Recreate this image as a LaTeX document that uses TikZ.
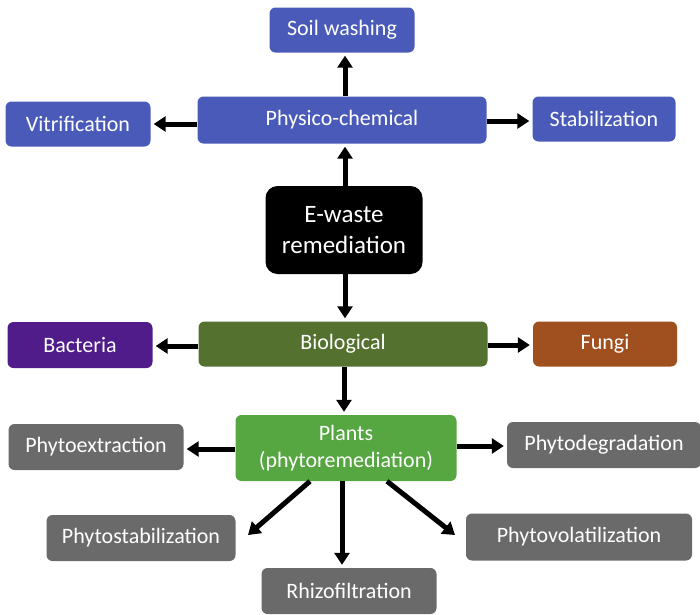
\documentclass[tikz,border=0pt]{standalone}
\usepackage{fontspec}
\setmainfont{Carlito}
\usetikzlibrary{arrows.meta}
\definecolor{cblue}{RGB}{74,90,184}
\definecolor{cbio}{RGB}{84,113,48}
\definecolor{cbac}{RGB}{80,28,138}
\definecolor{cfun}{RGB}{160,80,30}
\definecolor{cpla}{RGB}{86,166,66}
\definecolor{cgray}{RGB}{106,106,106}
\tikzset{
  box/.style={rectangle, rounded corners=6pt, text=white, font=\fontsize{22}{26}\selectfont, inner sep=0pt, align=center},
  arr/.style={line width=5pt, -{Triangle[length=12pt,width=15pt]}, shorten >=3pt},
}
\begin{document}
\begin{tikzpicture}[x=1pt,y=-1pt]
\useasboundingbox (0,0) rectangle (700,614);
\node[box, fill=cblue, minimum width=145pt, minimum height=45pt] (soil) at (342,30) {Soil washing};
\node[box, fill=cblue, minimum width=145pt, minimum height=45pt] (vit) at (78,124) {Vitrification};
\node[box, fill=cblue, minimum width=289pt, minimum height=47pt] (phys) at (342,120) {Physico-chemical};
\node[box, fill=cblue, minimum width=143pt, minimum height=45pt] (stab) at (604,119) {Stabilization};
\node[box, fill=black, minimum width=157pt, minimum height=88pt, rounded corners=12pt, font=\fontsize{25}{31}\selectfont] (ew) at (344,230) {E-waste\\remediation};
\node[box, fill=cbac, minimum width=145pt, minimum height=46pt] (bac) at (80,345) {Bacteria};
\node[box, fill=cbio, minimum width=289pt, minimum height=45pt] (bio) at (343,344) {Biological};
\node[box, fill=cfun, minimum width=144pt, minimum height=45pt] (fun) at (605,344) {Fungi};
\node[box, fill=cpla, minimum width=221pt, minimum height=66pt, font=\fontsize{22}{27}\selectfont] (pla) at (346,448) {Plants\\(phytoremediation)};
\node[box, fill=cgray, minimum width=175pt, minimum height=46pt] (pex) at (96,447) {Phytoextraction};
\node[box, fill=cgray, minimum width=194pt, minimum height=46pt] (pdeg) at (604,445) {Phytodegradation};
\node[box, fill=cgray, minimum width=189pt, minimum height=46pt] (pstab) at (141,538) {Phytostabilization};
\node[box, fill=cgray, minimum width=175pt, minimum height=46pt] (rhi) at (349,591) {Rhizofiltration};
\node[box, fill=cgray, minimum width=226pt, minimum height=47pt] (pvol) at (579,537) {Phytovolatilization};
\coordinate (stabtip) at (248,535);
\coordinate (voltip) at (455,535);
\draw[arr] (phys.north -| 345,0) -- (soil.south -| 345,0);
\draw[arr] (ew.north -| 345,0) -- (phys.south -| 345,0);
\draw[arr] (ew.south -| 345,0) -- (bio.north -| 345,0);
\draw[arr] (phys.west |- 0,124) -- (vit.east |- 0,124);
\draw[arr] (phys.east |- 0,121) -- (stab.west |- 0,121);
\draw[arr] (bio.west |- 0,346) -- (bac.east |- 0,346);
\draw[arr] (bio.east |- 0,345) -- (fun.west |- 0,345);
\draw[arr] (bio.south -| 344,0) -- (pla.north -| 344,0);
\draw[arr] (pla.west |- 0,449) -- (pex.east |- 0,449);
\draw[arr] (pla.east |- 0,446) -- (pdeg.west |- 0,446);
\draw[arr, shorten >=0pt] (pla.south -| 310,0) -- (stabtip);
\draw[arr] (pla.south -| 342,0) -- (rhi.north -| 342,0);
\draw[arr, shorten >=0pt] (pla.south -| 387,0) -- (voltip);
\end{tikzpicture}
\end{document}
